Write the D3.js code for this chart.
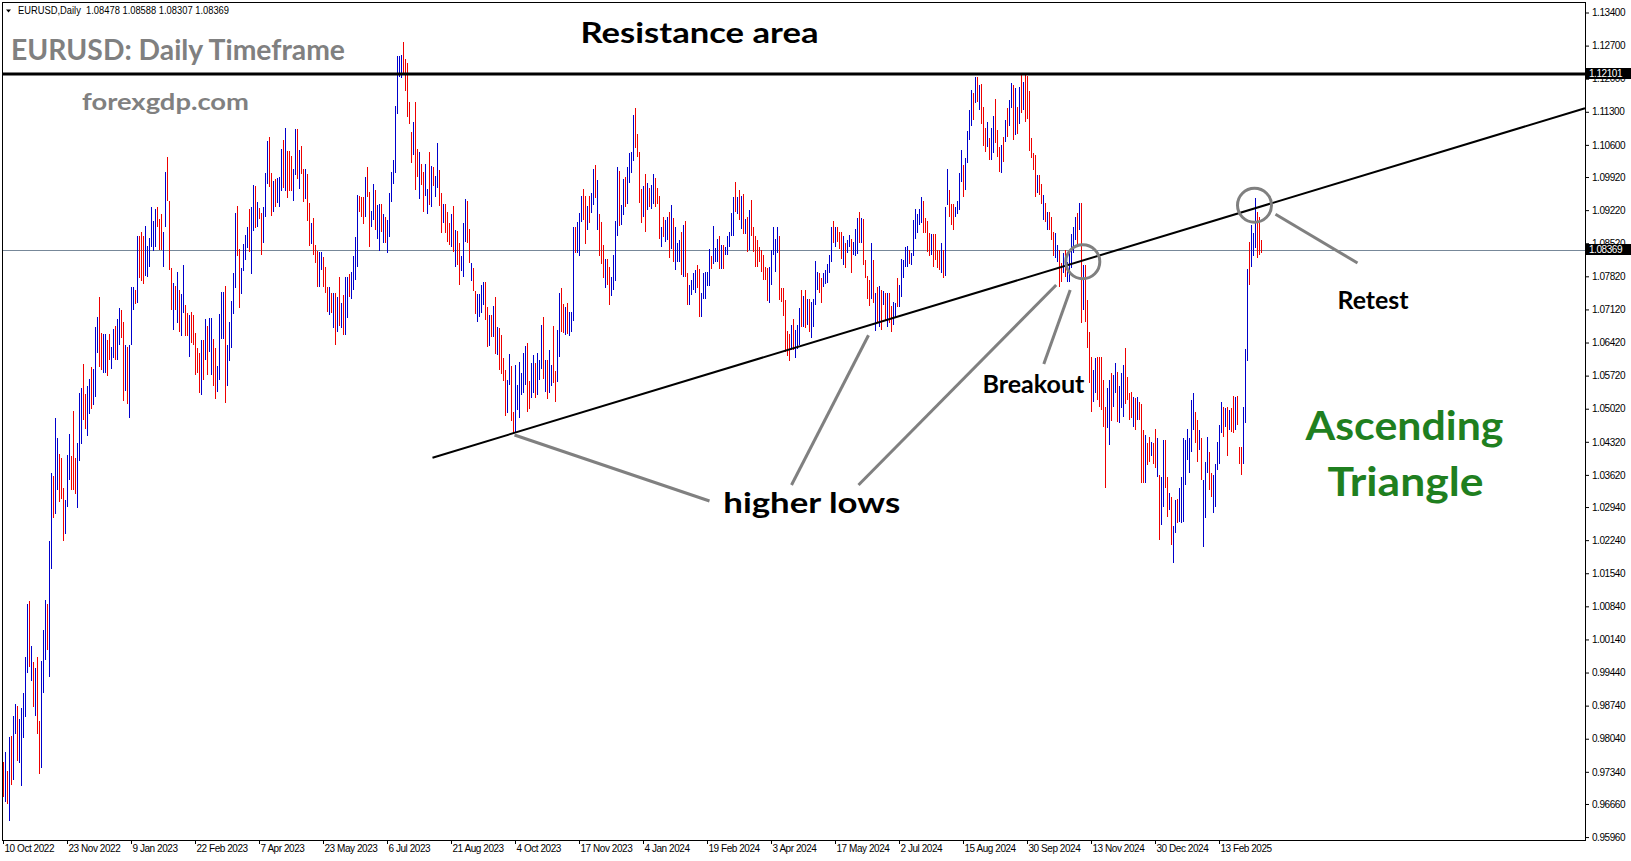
<!DOCTYPE html>
<html>
<head>
<meta charset="utf-8">
<script src="https://cdn.jsdelivr.net/npm/d3@7"></script>
<style>
  body { margin: 0; background: #fff; }
  svg { display: block; }
  .axis text { font-family: "Liberation Sans", Arial, sans-serif; font-size: 10px; letter-spacing: -0.45px; fill: #000; }
  .axis path, .axis line { stroke: #000; }
  .note { font-family: Lato, "Open Sans", sans-serif; font-weight: 700; }
</style>
</head>
<body>
<svg id="chart"></svg>
<script>
// EURUSD daily bars, 10 Oct 2022 .. 14 Mar 2025
const highs = [
0.9755,0.9776,0.9736,0.9808,0.9810,0.9852,0.9877,0.9873,0.9846,0.9869,
0.9901,0.9977,1.0089,1.0095,1.0000,0.9966,0.9954,0.9977,0.9842,0.9968,
1.0034,1.0097,1.0090,1.0223,1.0367,1.0360,1.0482,1.0440,1.0407,1.0397,
1.0334,1.0308,1.0404,1.0449,1.0403,1.0498,1.0397,1.0430,1.0535,1.0546,
1.0597,1.0533,1.0551,1.0565,1.0591,1.0586,1.0675,1.0696,1.0738,1.0663,
1.0661,1.0661,1.0647,1.0659,1.0633,1.0670,1.0676,1.0691,1.0715,1.0710,
1.0686,1.0637,1.0633,1.0636,1.0760,1.0760,1.0754,1.0868,1.0868,1.0875,
1.0868,1.0889,1.0847,1.0863,1.0928,1.0898,1.0924,1.0928,1.0903,1.0914,
1.0875,1.1003,1.1035,1.0942,1.0800,1.0768,1.0762,1.0791,1.0754,1.0744,
1.0805,1.0721,1.0705,1.0701,1.0707,1.0700,1.0663,1.0630,1.0619,1.0647,
1.0647,1.0691,1.0676,1.0693,1.0693,1.0649,1.0630,1.0593,1.0703,1.0749,
1.0749,1.0761,1.0637,1.0686,1.0730,1.0788,1.0915,1.0931,1.0840,1.0800,
1.0850,1.0870,1.0886,1.0924,1.0928,1.0975,1.0973,1.0940,1.0926,1.0915,
1.0928,1.1001,1.1069,1.1077,1.1001,1.0984,1.0987,1.0991,1.0993,1.1052,
1.1071,1.1096,1.1047,1.1047,1.1036,1.1010,1.1094,1.1094,1.1049,1.1057,
1.1010,1.1010,1.0999,1.0937,1.0894,1.0906,1.0849,1.0836,1.0833,1.0833,
1.0822,1.0802,1.0759,1.0759,1.0746,1.0746,1.0746,1.0739,1.0781,1.0725,
1.0743,1.0781,1.0780,1.0787,1.0792,1.0826,1.0866,1.0955,1.0952,1.0949,
1.0949,1.0993,1.1014,1.0961,1.0921,1.0977,1.0965,1.0933,1.0936,1.0935,
1.0914,1.0908,1.0901,1.0958,1.1003,1.1028,1.1142,1.1247,1.1248,1.1250,
1.1277,1.1241,1.1233,1.1151,1.1088,1.1109,1.1151,1.1051,1.1044,1.1019,
1.1003,1.1019,1.0966,1.1044,1.1015,1.1014,1.0995,1.1065,1.1007,1.0959,
1.0936,1.0936,1.0919,1.0894,1.0913,1.0931,1.0880,1.0878,1.0852,1.0824,
1.0894,1.0946,1.0942,1.0882,1.0810,1.0799,1.0750,1.0745,1.0745,1.0764,
1.0769,1.0769,1.0718,1.0700,1.0700,1.0719,1.0739,1.0674,1.0673,1.0658,
1.0609,1.0584,1.0563,1.0618,1.0592,1.0496,1.0595,1.0552,1.0600,1.0577,
1.0619,1.0635,1.0640,1.0561,1.0598,1.0616,1.0598,1.0619,1.0605,1.0679,
1.0695,1.0605,1.0606,1.0626,1.0595,1.0677,1.0582,1.0669,1.0746,1.0757,
1.0724,1.0718,1.0725,1.0707,1.0707,1.0887,1.0887,1.0896,1.0915,1.0952,
1.0966,1.0951,1.0931,1.0952,1.0959,1.1008,1.1018,1.0986,1.0913,1.0896,
1.0848,1.0818,1.0818,1.0801,1.0780,1.0827,1.0898,1.1013,1.1005,1.0933,
1.0987,1.0993,1.1014,1.1042,1.1046,1.1123,1.1139,1.1084,1.1044,1.0966,
1.0973,1.0998,1.0980,1.0968,1.0975,1.0998,1.0989,1.0968,1.0952,1.0887,
1.0908,1.0901,1.0908,1.0919,1.0933,1.0905,1.0887,1.0852,1.0859,1.0876,
1.0891,1.0900,1.0788,1.0764,1.0774,1.0788,1.0795,1.0806,1.0797,1.0746,
1.0788,1.0792,1.0792,1.0839,1.0825,1.0889,1.0841,1.0861,1.0867,1.0848,
1.0848,1.0845,1.0867,1.0876,1.0915,1.0950,1.0981,1.0949,1.0965,1.0952,
1.0956,1.0903,1.0908,1.0922,1.0943,1.0887,1.0868,1.0859,1.0845,1.0838,
1.0827,1.0802,1.0799,1.0801,1.0838,1.0887,1.0862,1.0887,1.0867,1.0758,
1.0758,1.0732,1.0667,1.0660,1.0680,1.0691,1.0668,1.0679,1.0714,1.0753,
1.0740,1.0753,1.0735,1.0735,1.0728,1.0733,1.0815,1.0792,1.0788,1.0778,
1.0788,1.0795,1.0808,1.0827,1.0887,1.0898,1.0887,1.0886,1.0876,1.0876,
1.0867,1.0853,1.0859,1.0869,1.0860,1.0855,1.0883,1.0905,1.0917,1.0905,
1.0903,1.0817,1.0783,1.0774,1.0853,1.0817,1.0746,1.0760,1.0762,1.0753,
1.0750,1.0746,1.0746,1.0746,1.0719,1.0728,1.0726,1.0778,1.0764,1.0818,
1.0817,1.0843,1.0846,1.0838,1.0831,1.0901,1.0924,1.0914,1.0924,1.0950,
1.0941,1.0905,1.0898,1.0873,1.0872,1.0872,1.0872,1.0838,1.0838,1.0852,
1.0838,1.0929,1.1010,1.0965,1.0936,1.0936,1.0929,1.0942,1.1001,1.1049,
1.1017,1.1032,1.1090,1.1134,1.1176,1.1169,1.1203,1.1204,1.1187,1.1189,
1.1141,1.1095,1.1109,1.1074,1.1095,1.1121,1.1156,1.1091,1.1055,1.1060,
1.1077,1.1113,1.1137,1.1155,1.1190,1.1187,1.1180,1.1141,1.1183,1.1208,
1.1194,1.1208,1.1206,1.1175,1.1074,1.1042,1.1039,1.0996,1.0996,1.0977,
1.0954,1.0938,1.0919,1.0919,1.0908,1.0876,1.0873,1.0848,1.0838,1.0811,
1.0831,1.0838,1.0813,1.0834,1.0872,1.0887,1.0908,1.0915,1.0938,1.0938,
1.0806,1.0806,1.0732,1.0665,1.0612,1.0584,1.0609,1.0612,1.0612,1.0612,
1.0563,1.0506,1.0545,1.0563,1.0577,1.0573,1.0598,1.0580,1.0549,1.0577,
1.0594,1.0630,1.0570,1.0535,1.0538,1.0527,1.0524,1.0527,1.0517,1.0513,
1.0457,1.0446,1.0429,1.0443,1.0432,1.0429,1.0460,1.0439,1.0362,1.0358,
1.0436,1.0436,1.0358,1.0323,1.0316,1.0253,1.0309,1.0312,1.0334,1.0358,
1.0439,1.0436,1.0460,1.0439,1.0520,1.0535,1.0496,1.0478,1.0457,1.0439,
1.0351,1.0390,1.0443,1.0411,1.0365,1.0362,1.0386,1.0432,1.0467,1.0517,
1.0506,1.0503,1.0506,1.0499,1.0503,1.0529,1.0527,1.0529,1.0422,1.0422,
1.0506,1.0628,1.0797,1.0855,1.0891,1.0873,1.0947,1.0919,1.0908,1.0859
];
const lows = [
0.9681,0.9670,0.9666,0.9631,0.9707,0.9717,0.9813,0.9757,0.9753,0.9705,
0.9806,0.9849,0.9944,0.9956,0.9927,0.9872,0.9853,0.9813,0.9730,0.9743,
0.9901,0.9971,0.9992,0.9934,1.0162,1.0271,1.0279,1.0330,1.0305,1.0311,
1.0223,1.0237,1.0295,1.0351,1.0330,1.0330,1.0321,1.0291,1.0392,1.0428,
1.0479,1.0460,1.0444,1.0490,1.0502,1.0509,1.0527,1.0619,1.0591,1.0584,
1.0577,1.0577,1.0572,1.0605,1.0586,1.0609,1.0605,1.0605,1.0637,1.0651,
1.0519,1.0539,1.0513,1.0483,1.0637,1.0710,1.0723,1.0726,1.0779,1.0772,
1.0766,1.0782,1.0780,1.0802,1.0844,1.0835,1.0845,1.0887,1.0838,1.0838,
1.0802,1.0886,1.0942,1.0796,1.0710,1.0668,1.0710,1.0684,1.0665,1.0656,
1.0705,1.0656,1.0656,1.0611,1.0642,1.0637,1.0574,1.0577,1.0535,1.0530,
1.0563,1.0605,1.0574,1.0621,1.0574,1.0549,1.0523,1.0538,1.0563,1.0650,
1.0649,1.0514,1.0551,1.0602,1.0630,1.0703,1.0758,1.0824,1.0714,1.0745,
1.0794,1.0816,1.0842,1.0833,1.0786,1.0877,1.0884,1.0886,1.0903,1.0828,
1.0852,1.0908,1.0977,1.0971,1.0909,1.0917,1.0928,1.0937,1.0928,1.0963,
1.0968,1.0963,1.0947,1.0963,1.0962,1.0942,1.0996,1.0987,1.0966,1.0999,
1.0940,1.0945,1.0898,1.0847,1.0850,1.0828,1.0810,1.0760,1.0760,1.0796,
1.0760,1.0747,1.0707,1.0701,1.0704,1.0672,1.0637,1.0665,1.0676,1.0672,
1.0658,1.0658,1.0693,1.0739,1.0733,1.0753,1.0774,1.0802,1.0919,1.0907,
1.0893,1.0908,1.0950,1.0845,1.0887,1.0901,1.0880,1.0860,1.0836,1.0876,
1.0853,1.0852,1.0832,1.0866,1.0940,1.0977,1.1001,1.1125,1.1204,1.1202,
1.1211,1.1174,1.1118,1.1104,1.1021,1.1039,1.0965,1.0993,1.0945,1.0975,
1.0917,1.0952,1.0913,1.0933,1.0929,1.0972,1.0949,1.0968,1.0931,1.0874,
1.0895,1.0873,1.0855,1.0848,1.0843,1.0834,1.0802,1.0806,1.0764,1.0794,
1.0781,1.0855,1.0852,1.0810,1.0773,1.0750,1.0702,1.0686,1.0695,1.0705,
1.0721,1.0690,1.0632,1.0635,1.0654,1.0654,1.0618,1.0616,1.0584,1.0575,
1.0561,1.0487,1.0492,1.0552,1.0475,1.0450,1.0450,1.0499,1.0483,1.0531,
1.0536,1.0552,1.0496,1.0501,1.0524,1.0535,1.0524,1.0531,1.0563,1.0585,
1.0564,1.0538,1.0522,1.0535,1.0549,1.0557,1.0517,1.0559,1.0612,1.0665,
1.0663,1.0658,1.0661,1.0656,1.0665,1.0688,1.0831,1.0831,1.0824,1.0896,
1.0901,1.0850,1.0880,1.0894,1.0915,1.0933,1.0947,1.0879,1.0825,1.0809,
1.0778,1.0757,1.0764,1.0721,1.0741,1.0753,1.0773,1.0867,1.0888,1.0891,
1.0912,1.0929,1.0934,1.0980,1.1001,1.1025,1.1053,1.1035,1.0938,1.0894,
1.0907,1.0876,1.0922,1.0929,1.0924,1.0935,1.0929,1.0935,1.0862,1.0845,
1.0866,1.0855,1.0859,1.0821,1.0839,1.0813,1.0795,1.0813,1.0813,1.0785,
1.0780,1.0780,1.0721,1.0721,1.0743,1.0753,1.0746,1.0757,1.0695,1.0695,
1.0733,1.0735,1.0762,1.0762,1.0797,1.0808,1.0813,1.0813,1.0797,1.0797,
1.0797,1.0827,1.0827,1.0843,1.0867,1.0867,1.0919,1.0914,1.0901,1.0882,
1.0872,1.0872,1.0834,1.0838,1.0867,1.0834,1.0802,1.0802,1.0813,1.0792,
1.0775,1.0775,1.0730,1.0725,1.0763,1.0827,1.0792,1.0831,1.0732,1.0728,
1.0698,1.0623,1.0613,1.0602,1.0626,1.0626,1.0609,1.0628,1.0637,1.0675,
1.0675,1.0672,1.0679,1.0665,1.0651,1.0675,1.0721,1.0753,1.0746,1.0726,
1.0760,1.0766,1.0767,1.0788,1.0813,1.0853,1.0845,1.0855,1.0839,1.0818,
1.0806,1.0799,1.0831,1.0843,1.0788,1.0827,1.0824,1.0829,1.0853,1.0853,
1.0806,1.0778,1.0733,1.0719,1.0733,1.0726,1.0667,1.0683,1.0675,1.0668,
1.0721,1.0690,1.0675,1.0683,1.0665,1.0679,1.0693,1.0718,1.0718,1.0738,
1.0778,1.0801,1.0802,1.0809,1.0806,1.0824,1.0860,1.0873,1.0890,1.0894,
1.0873,1.0873,1.0834,1.0824,1.0827,1.0802,1.0816,1.0799,1.0795,1.0788,
1.0778,1.0783,1.0933,1.0908,1.0890,1.0881,1.0908,1.0914,1.0922,1.0982,
1.0949,1.0965,1.1022,1.1070,1.1099,1.1113,1.1148,1.1151,1.1134,1.1104,
1.1058,1.1044,1.1055,1.1029,1.1028,1.1042,1.1063,1.1035,1.1003,1.1001,
1.1024,1.1067,1.1076,1.1099,1.1137,1.1070,1.1081,1.1084,1.1104,1.1127,
1.1134,1.1109,1.1114,1.1048,1.1032,1.1007,1.0950,1.0958,1.0954,1.0936,
1.0901,1.0897,1.0879,1.0879,1.0859,1.0824,1.0820,1.0813,1.0760,1.0769,
1.0788,1.0780,1.0769,1.0771,1.0799,1.0831,1.0859,1.0845,1.0880,1.0683,
1.0711,1.0686,1.0630,1.0556,1.0496,1.0517,1.0535,1.0521,1.0506,1.0499,
1.0464,1.0334,1.0461,1.0425,1.0475,1.0506,1.0535,1.0473,1.0471,1.0503,
1.0485,1.0513,1.0521,1.0478,1.0482,1.0464,1.0457,1.0478,1.0478,1.0344,
1.0344,1.0344,1.0383,1.0390,1.0401,1.0386,1.0376,1.0358,1.0224,1.0256,
1.0295,1.0334,1.0274,1.0288,1.0214,1.0176,1.0239,1.0260,1.0263,1.0260,
1.0263,1.0341,1.0394,1.0365,1.0411,1.0457,1.0429,1.0390,1.0415,1.0351,
1.0210,1.0270,1.0365,1.0330,1.0316,1.0281,1.0295,1.0372,1.0386,1.0450,
1.0443,1.0464,1.0401,1.0457,1.0453,1.0450,1.0457,1.0468,1.0386,1.0362,
1.0386,1.0471,1.0602,1.0764,1.0802,1.0824,1.0841,1.0820,1.0827,1.0831
];
// 1 = bar closed up (blue), 0 = closed down (red)
const bullish = [
0,1,0,1,0,1,1,0,1,1, 1,1,1,0,1,0,1,0,0,1, 1,1,0,1,1,0,1,1,0,0, 0,1,1,1,0,0,0,1,1,1,
0,0,1,1,0,1,1,1,0,0, 1,1,0,0,1,1,0,1,1,0, 0,1,0,1,1,1,0,1,0,0, 0,1,1,1,1,1,1,0,0,0,
1,1,0,0,0,1,0,1,0,1, 1,0,0,1,0,0,0,0,0,1, 0,1,0,1,1,0,0,1,1,1, 1,0,1,1,1,1,1,0,0,1,
1,1,1,0,1,1,0,1,0,0, 1,1,1,0,0,1,0,1,1,1, 0,1,0,0,0,1,1,0,1,0, 0,1,0,0,1,0,0,0,1,1,
0,0,0,1,0,1,0,1,0,1, 0,1,1,0,1,1,1,1,0,0, 0,1,0,0,1,1,0,1,1,0, 1,0,1,1,1,1,1,1,1,1,
0,0,0,0,0,1,0,0,1,0, 0,1,1,0,1,0,1,1,0,0, 1,0,0,0,1,0,1,0,0,1, 1,1,0,0,1,0,0,1,1,1,
1,0,0,1,0,1,0,1,0,0, 0,0,1,1,0,0,1,1,1,1, 1,1,0,0,1,1,0,1,1,1, 0,1,0,1,1,0,0,1,1,0,
0,1,0,1,1,1,0,1,1,1, 0,0,1,0,1,1,0,1,0,0, 0,1,0,0,1,1,1,1,0,1, 1,0,1,1,1,1,0,0,0,0,
1,0,1,0,1,1,0,0,0,1, 0,1,1,0,1,0,1,1,1,0, 1,0,0,1,1,1,1,0,0,1, 1,1,1,1,0,1,1,1,0,1,
0,1,1,1,1,1,0,1,0,1, 0,1,0,1,0,0,0,0,0,0, 0,0,0,1,1,1,1,1,0,0, 0,0,0,0,1,0,1,1,1,0,
1,0,1,0,1,1,1,1,0,0, 1,1,1,1,1,0,1,0,0,0, 1,0,1,1,0,1,1,1,0,1, 0,0,0,0,1,0,1,0,1,0,
1,0,1,0,0,1,1,0,1,1, 1,1,1,0,1,1,1,1,1,1, 0,0,0,0,1,0,0,0,0,1, 0,1,1,0,0,0,1,1,1,1,
0,1,1,1,1,0,1,0,1,0, 0,0,1,0,1,1,0,0,0,1, 0,1,0,1,1,0,1,0,1,0, 1,0,0,0,0,0,0,1,0,0,
1,0,1,0,0,0,1,1,0,0, 1,0,1,1,1,1,1,0,1,0, 1,0,0,0,0,1,1,0,0,0, 0,0,1,1,0,1,1,0,1,1,
1,0,0,0,0,1,0,1,0,0, 0,1,0,0,1,0,0,1,0,1, 1,0,0,1,0,1,1,0,1,1, 1,1,1,1,1,1,0,0,1,0,
1,1,1,0,0,1,1,1,1,1, 0,1,0,1,0,0,1,0,0,0, 1,1,1,0,1,1,1,0,0,0
];

const priceTicks = [1.134, 1.127, 1.12, 1.113, 1.106, 1.0992, 1.0922, 1.0852, 1.0782, 1.0712,
  1.0642, 1.0572, 1.0502, 1.0432, 1.0362, 1.0294, 1.0224, 1.0154, 1.0084, 1.0014,
  0.9944, 0.9874, 0.9804, 0.9734, 0.9666, 0.9596];
const dateBars = [0, 32, 64, 96, 128, 160, 192, 224, 256, 288, 320, 352, 384, 416, 448, 480, 512, 544, 576, 608];
const dateLabels = ["10 Oct 2022", "23 Nov 2022", "9 Jan 2023", "22 Feb 2023", "7 Apr 2023", "23 May 2023",
  "6 Jul 2023", "21 Aug 2023", "4 Oct 2023", "17 Nov 2023", "4 Jan 2024", "19 Feb 2024", "3 Apr 2024",
  "17 May 2024", "2 Jul 2024", "15 Aug 2024", "30 Sep 2024", "13 Nov 2024", "30 Dec 2024", "13 Feb 2025"];

const lastBar = {open: 1.08478, high: 1.08588, low: 1.08307, close: 1.08369};
const resistance = 1.12101;

// drawings on the chart, in [bar index, price]
const trendLine = [[214.75, 1.03984], [791, 1.11376]];
const pointerLines = [
  [[255.75, 1.04464], [353.25, 1.03068]],
  [[394.25, 1.03406], [432.75, 1.06573]],
  [[427.75, 1.03406], [526.6, 1.07636]],
  [[520.4, 1.05966], [533.6, 1.07531]],
  [[636.25, 1.09132], [677.25, 1.08102]]
];
const circleMarks = [[539.9, 1.08129], [625.75, 1.09324]];
const notes = [
  {text: "Resistance area", at: [348.25, 1.12755], size: 28, width: 238, green: false},
  {text: "higher lows", at: [404.4, 1.02814], size: 28, width: 177, green: false},
  {text: "Breakout", at: [515.2, 1.05346], size: 24, width: 102, green: false},
  {text: "Retest", at: [685, 1.07129], size: 24, width: 71, green: false},
  {text: "Ascending", at: [700.75, 1.04358], size: 40, width: 198, green: true},
  {text: "Triangle", at: [701.25, 1.03174], size: 40, width: 156, green: true}
];

const width = 1631, height = 861;
const blue = "#0000cc", red = "#ee0000", grey = "#808080", green = "#1f7f1f";

const svg = d3.select("#chart").attr("width", width).attr("height", height);

const x = d3.scaleLinear().domain([0, 791]).range([3, 1585]);
const y = d3.scaleLinear().domain([0.95898, 1.13601]).range([840, 3]);

function fit(sel, w) {
  return sel.attr("textLength", w).attr("lengthAdjust", "spacingAndGlyphs");
}

// frame
svg.append("rect")
  .attr("x", 2.5).attr("y", 2.5)
  .attr("width", 1583).attr("height", 838)
  .attr("fill", "none").attr("stroke", "#000");

// current price line (behind the bars)
svg.append("line")
  .attr("x1", 3).attr("x2", 1585)
  .attr("y1", Math.round(y(lastBar.close)) + 0.5).attr("y2", Math.round(y(lastBar.close)) + 0.5)
  .attr("stroke", "#778899");

// bars
svg.append("g")
  .selectAll("line")
  .data(highs)
  .join("line")
  .attr("x1", (d, i) => x(i) + 0.5)
  .attr("x2", (d, i) => x(i) + 0.5)
  .attr("y1", d => y(d))
  .attr("y2", (d, i) => y(lows[i]))
  .attr("stroke", (d, i) => bullish[i] ? blue : red)
  .attr("stroke-width", 1)
  .attr("shape-rendering", "crispEdges");

// resistance level
svg.append("line")
  .attr("x1", 3).attr("x2", 1585)
  .attr("y1", y(resistance)).attr("y2", y(resistance))
  .attr("stroke", "#000").attr("stroke-width", 3);

// rising trend line
svg.append("line")
  .attr("x1", x(trendLine[0][0])).attr("y1", y(trendLine[0][1]))
  .attr("x2", x(trendLine[1][0])).attr("y2", y(trendLine[1][1]))
  .attr("stroke", "#000").attr("stroke-width", 2);

// grey pointers and circles
svg.append("g")
  .selectAll("line")
  .data(pointerLines)
  .join("line")
  .attr("x1", d => x(d[0][0])).attr("y1", d => y(d[0][1]))
  .attr("x2", d => x(d[1][0])).attr("y2", d => y(d[1][1]))
  .attr("stroke", grey).attr("stroke-width", 3);

svg.append("g")
  .selectAll("circle")
  .data(circleMarks)
  .join("circle")
  .attr("cx", d => x(d[0])).attr("cy", d => y(d[1]))
  .attr("r", 17)
  .attr("fill", "none").attr("stroke", grey).attr("stroke-width", 3);

// price axis
const yAxis = svg.append("g")
  .attr("class", "axis")
  .attr("transform", "translate(1585,0)")
  .call(d3.axisRight(y).tickValues(priceTicks).tickFormat(d3.format(".5f")).tickSize(4).tickSizeOuter(0));

// date axis
const xAxis = svg.append("g")
  .attr("class", "axis")
  .attr("transform", "translate(0,840)")
  .call(d3.axisBottom(x).tickValues(dateBars).tickFormat((d, i) => dateLabels[i]).tickSize(4).tickSizeOuter(0));
xAxis.selectAll("text").attr("text-anchor", "start").attr("x", 1).attr("y", 5);

// price boxes on the axis (they cover the nearest grid label, as in the terminal)
[resistance, lastBar.close].forEach(p => {
  const g = svg.append("g");
  g.append("rect")
    .attr("x", 1586).attr("y", Math.round(y(p)) - 6)
    .attr("width", 45).attr("height", 11)
    .attr("fill", "#000");
  g.append("text")
    .attr("x", 1589).attr("y", Math.round(y(p)) + 3)
    .attr("fill", "#fff")
    .style("font-family", "Liberation Sans, Arial, sans-serif")
    .style("font-size", "10px")
    .style("letter-spacing", "-0.45px")
    .text(d3.format(".5f")(p));
});

// header line
svg.append("path")
  .attr("d", "M6,9.5L11,9.5L8.5,12.5Z")
  .attr("fill", "#000");
fit(svg.append("text")
  .attr("x", 18).attr("y", 13.5)
  .style("font-family", "Liberation Sans, Arial, sans-serif")
  .style("font-size", "10px")
  .style("white-space", "pre")
  .text("EURUSD,Daily  " + [lastBar.open, lastBar.high, lastBar.low, lastBar.close].map(d3.format(".5f")).join(" ")), 211);

// titles
fit(svg.append("text")
  .attr("class", "note")
  .attr("x", 11).attr("y", 60)
  .attr("fill", grey)
  .style("font-size", "28px")
  .text("EURUSD: Daily Timeframe"), 334);

fit(svg.append("text")
  .attr("class", "note")
  .attr("x", 82).attr("y", 110)
  .attr("fill", grey)
  .style("font-size", "23px")
  .text("forexgdp.com"), 167);

// annotations
notes.forEach(n => {
  fit(svg.append("text")
    .attr("class", "note")
    .attr("x", x(n.at[0]) - n.width / 2)
    .attr("y", y(n.at[1]))
    .attr("fill", n.green ? green : "#000")
    .style("font-size", n.size + "px")
    .text(n.text), n.width);
});
</script>
</body>
</html>
